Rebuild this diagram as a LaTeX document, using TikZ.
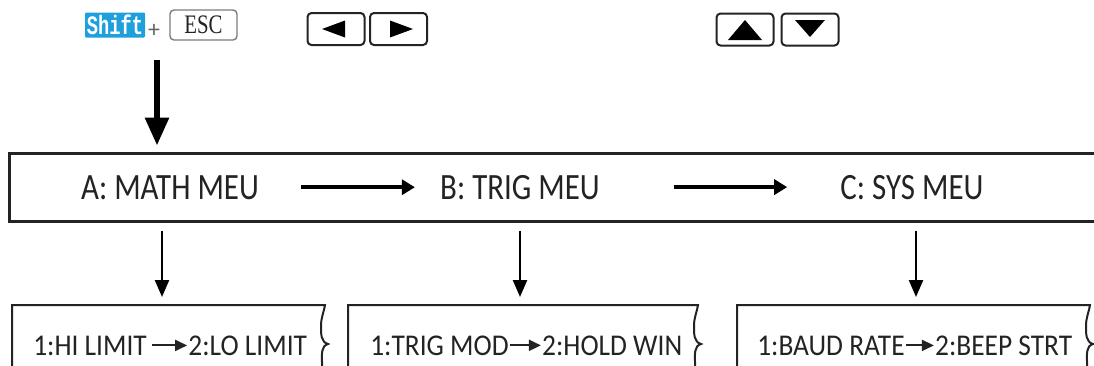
\documentclass[tikz,border=0pt]{standalone}
\usepackage{fontspec}
\setmainfont{Carlito}
\newfontfamily\keyfont{Liberation Mono}
\newfontfamily\escfont{Liberation Serif}
\usepackage{xcolor}
\definecolor{keyblue}{RGB}{30,160,220}
\definecolor{ink}{RGB}{35,35,35}
\usepackage{tikz}
\usetikzlibrary{positioning,arrows.meta,calc}
\newcommand{\tall}[2][1.2]{\scalebox{1}[#1]{#2}}

\begin{document}
\begin{tikzpicture}
		[x=0.25mm,y=-0.25mm,
		every node/.style={inner sep=0pt,text=ink},
		key/.style={draw=ink,line width=0.5mm,rounded corners=1mm,minimum width=14.25mm,minimum height=8mm},
		menu/.style={font=\fontsize{22}{26}\selectfont,anchor=base},
		item/.style={font=\fontsize{19.5}{23}\selectfont,anchor=base west},
		frame/.style={draw=ink,line width=0.5mm},
		bigarrow/.style={draw=black,line width=1.5mm,-{Triangle[length=7mm,width=5.75mm]}},
		menuarrow/.style={draw=black,line width=1mm,-{Triangle[length=3.25mm,width=3.75mm]}},
		downarrow/.style={draw=black,line width=0.6mm,-{Triangle[length=4.25mm,width=3.5mm]}},
		textarrow/.style={draw=ink,line width=0.5mm,-{Triangle[length=3mm,width=2.75mm]}}]
		\useasboundingbox (0,0) rectangle (1094,365);
		\clip (0,0) rectangle (1094,365);
		\node[fill=keyblue,rounded corners=0.3mm,minimum width=15mm,minimum height=6.25mm,
			text=white,font=\keyfont\bfseries\fontsize{14}{16}\selectfont] (shift) at (115,25) {\scalebox{0.95}[1.35]{Shift}};
		\node[text=ink!70,font=\fontsize{17}{19}\selectfont] (plus) at (154,31) {+};
		\node[key,draw=ink!60,line width=0.35mm,minimum width=16.75mm,minimum height=7.5mm,
			font=\escfont\fontsize{19}{21}\selectfont] (esc) at (203.5,25) {\scalebox{0.78}[1]{ESC}};
		\node[key] (lt) at (336,29) {};
		\node[key] (rt) at (398.5,29) {};
		\node[key] (up) at (745,29.5) {};
		\node[key] (dn) at (810,29.5) {};
		\fill (lt.center) ++(-14,0) -- ++(23,-8.5) -- ++(0,17) -- cycle;
		\fill (rt.center) ++(14.5,0) -- ++(-23,-8.5) -- ++(0,17) -- cycle;
		\fill (up.center) ++(0,-9.5) -- ++(17,20) -- ++(-34,0) -- cycle;
		\fill (dn.center) ++(0,7.5) -- ++(15,-17) -- ++(-30,0) -- cycle;
		\node[frame,line width=0.75mm,minimum width=275mm,minimum height=17mm] (bar) at (560,187) {};
		\node[menu] (mathm) at (170,199) {\tall{A: MATH MEU}};
		\node[menu] (trigm) at (520,199) {\tall{B: TRIG MEU}};
		\node[menu] (sysm) at (912,199) {\tall{C: SYS MEU}};
		\coordinate (go) at (157,60);
		\draw[bigarrow,shorten >=1.5mm] (go) -- (go |- bar.north);
		\draw[menuarrow,shorten <=10.5mm,shorten >=6.25mm] (mathm.east) -- (mathm.east -| trigm.west);
		\draw[menuarrow,shorten <=18.5mm,shorten >=13.25mm] (trigm.east) -- (trigm.east -| sysm.west);
		\foreach \l/\r/\a/\n in {12/325/162/1,348/698/520/2,737/1090/916/3} {
			\draw[frame] (\l,370) -- (\l,305) -- (\r,305) to[out=-100,in=90] ({\r-4},326)
				to[out=-90,in=165] ({\r+3},344) to[out=195,in=90] ({\r-3},362) -- ({\r-3},370);
			\coordinate (box\n) at (\a,305);
			\draw[downarrow,shorten <=2mm,shorten >=2mm] (box\n |- bar.south) -- (box\n);
		}
		\node[item] (hilim) at (33,355) {\tall[1.1]{1:HI LIMIT}};
		\node[item,right=10.25mm of hilim] (lolim) {\tall[1.1]{2:LO LIMIT}};
		\node[item] (trigmod) at (370,355) {\tall[1.1]{1:TRIG MOD}};
		\node[item,right=8.25mm of trigmod] (holdwin) {\tall[1.1]{2:HOLD WIN}};
		\node[item] (baud) at (757,355) {\tall[1.1]{1:BAUD RATE}};
		\node[item,right=7.5mm of baud] (beep) {\tall[1.1]{2:BEEP STRT}};
		\draw[textarrow,shorten <=1.25mm,shorten >=0.25mm] (hilim) -- (lolim);
		\draw[textarrow,shorten <=0.25mm,shorten >=0.25mm] (trigmod) -- (holdwin);
		\draw[textarrow,shorten <=0.25mm,shorten >=0.25mm] (baud) -- (beep);
	\end{tikzpicture}
\end{document}
